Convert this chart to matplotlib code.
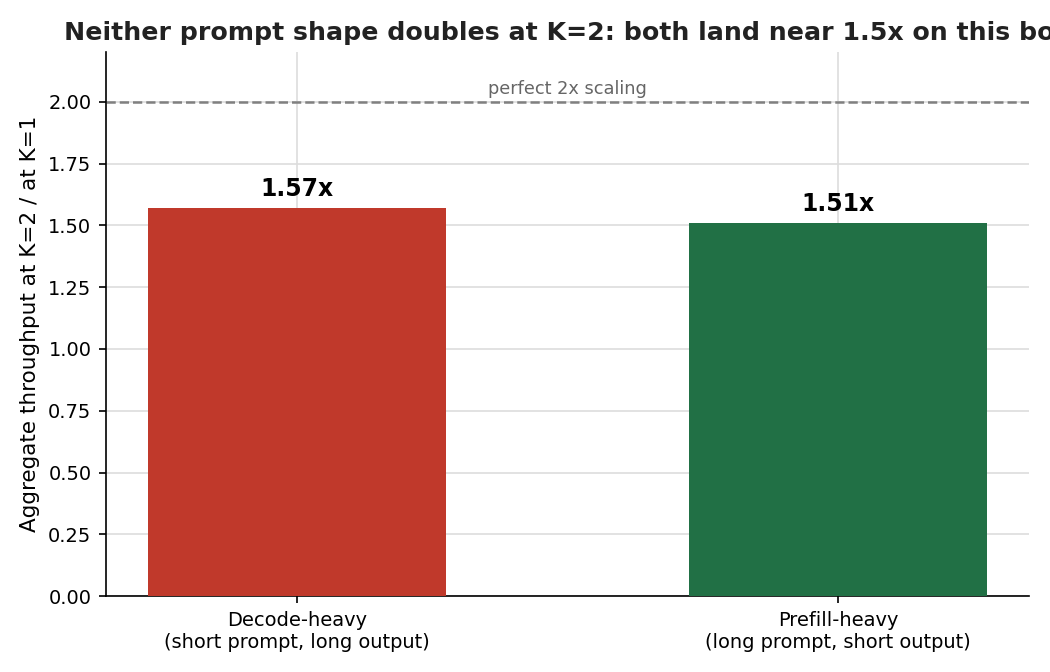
import matplotlib
matplotlib.use("Agg")
import matplotlib.pyplot as plt

categories = ["Decode-heavy\n(short prompt, long output)", "Prefill-heavy\n(long prompt, short output)"]
ratios = [1.57, 1.51]
value_labels = ["1.57x", "1.51x"]
colors = ["#c0392b", "#217045"]
ideal = 2.0

fig, ax = plt.subplots(figsize=(7, 4.48), dpi=150)
fig.subplots_adjust(left=0.101, right=0.98, top=0.922, bottom=0.113)
x = list(range(len(categories)))
ax.bar(x, ratios, width=0.55, color=colors, zorder=3)
for xi, v, lab in zip(x, ratios, value_labels):
    ax.text(xi, v + 0.03, lab, ha="center", va="bottom", fontsize=11.3, fontweight="bold", zorder=4)
ax.axhline(ideal, color="gray", linestyle="--", linewidth=1.2, zorder=2)
ax.text(0.5, ideal + 0.015, "perfect 2x scaling", ha="center", va="bottom", fontsize=8.5, color="#666666")
ax.set_xticks(x)
ax.set_xticklabels(categories, fontsize=9.3)
ax.tick_params(axis="y", labelsize=9.3)
ax.set_ylim(0, 2.2)
ax.set_ylabel("Aggregate throughput at K=2 / at K=1", fontsize=10.3)
ax.set_title("Neither prompt shape doubles at K=2: both land near 1.5x on this box", fontsize=12.1, fontweight="bold", color="#222222")
ax.grid(True, color="#dddddd", linewidth=0.8, zorder=0)
ax.set_axisbelow(True)
ax.spines["top"].set_visible(False)
ax.spines["right"].set_visible(False)
fig.savefig("out.png", dpi=150)
